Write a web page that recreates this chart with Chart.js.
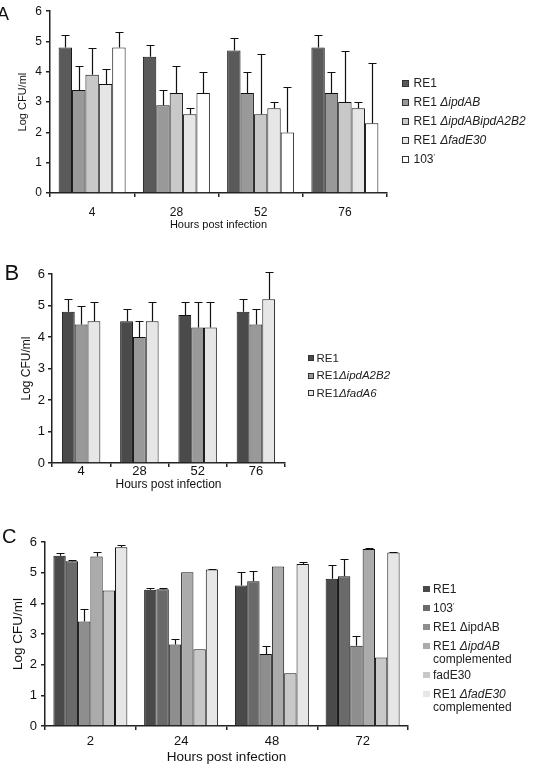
<!DOCTYPE html>
<html><head><meta charset="utf-8">
<script src="https://cdn.jsdelivr.net/npm/chart.js@4/dist/chart.umd.min.js"></script>
<style>
html,body{margin:0;padding:0;background:#fff;}
body{width:543px;height:764px;position:relative;overflow:hidden;font-family:"Liberation Sans",Arial,sans-serif;}
canvas{position:absolute;left:0;}
.letter{position:absolute;line-height:1;color:#111;}
.leg{position:absolute;display:flex;align-items:flex-start;color:#222;white-space:nowrap;}
.sw{display:inline-block;box-sizing:border-box;flex:none;}
.pr{font-size:8px;position:relative;top:-4px;line-height:0;}
</style></head><body>
<canvas id="ca" width="543" height="240" style="top:0px"></canvas>
<canvas id="cb" width="543" height="260" style="top:240px"></canvas>
<canvas id="cc" width="543" height="264" style="top:500px"></canvas>
<div class="letter" style="left:-3px;top:4.6px;font-size:18px">A</div>
<div class="letter" style="left:4.5px;top:262px;font-size:22px">B</div>
<div class="letter" style="left:2px;top:526px;font-size:20px">C</div>
<div id="legends"></div>
<script>
// ---------- Panel A ----------
const catsA = ['4', '28', '52', '76'];
const A_RE1 = [4.8, 4.5, 4.7, 4.8];
const A_RE1_err = [5.2, 4.9, 5.1, 5.2];
const A_ipdAB = [3.4, 2.9, 3.3, 3.3];
const A_ipdAB_err = [4.2, 3.4, 4.0, 4.0];
const A_ipdABipdA2B2 = [3.9, 3.3, 2.6, 3.0];
const A_ipdABipdA2B2_err = [4.8, 4.2, 4.6, 4.7];
const A_fadE30 = [3.6, 2.6, 2.8, 2.8];
const A_fadE30_err = [4.1, 2.8, 3.0, 3.0];
const A_103 = [4.8, 3.3, 2.0, 2.3];
const A_103_err = [5.3, 4.0, 3.5, 4.3];
const namesA = ['RE1', 'RE1 ΔipdAB', 'RE1 ΔipdABipdA2B2', 'RE1 ΔfadE30', "103'"];
const legendA = ['RE1', 'RE1 <i>ΔipdAB</i>', 'RE1 <i>ΔipdABipdA2B2</i>', 'RE1 <i>ΔfadE30</i>', "103<span class=\"pr\">'</span>"];

// ---------- Panel B ----------
const catsB = ['4', '28', '52', '76'];
const B_RE1 = [4.8, 4.5, 4.7, 4.8];
const B_RE1_err = [5.2, 4.9, 5.1, 5.2];
const B_ipdA2B2 = [4.4, 4.0, 4.3, 4.4];
const B_ipdA2B2_err = [5.0, 4.5, 5.1, 4.9];
const B_fadA6 = [4.5, 4.5, 4.3, 5.2];
const B_fadA6_err = [5.1, 5.1, 5.1, 6.05];
const namesB = ['RE1', 'RE1ΔipdA2B2', 'RE1ΔfadA6'];
const legendB = ['RE1', 'RE1<i>ΔipdA2B2</i>', 'RE1<i>ΔfadA6</i>'];

// ---------- Panel C ----------
const catsC = ['2', '24', '48', '72'];
const C_RE1 = [5.55, 4.44, 4.58, 4.8];
const C_RE1_err = [5.64, 4.5, 5.03, 5.26];
const C_103 = [5.37, 4.46, 4.72, 4.88];
const C_103_err = [5.4, 4.5, 5.06, 5.46];
const C_ipdAB = [3.41, 2.66, 2.35, 2.62];
const C_ipdAB_err = [3.83, 2.83, 2.62, 2.95];
const C_ipdABcomp = [5.53, 5.01, 5.2, 5.77];
const C_ipdABcomp_err = [5.69, null, null, 5.8];
const C_fadE30 = [4.42, 2.5, 1.72, 2.23];
const C_fadE30_err = [null, null, null, null];
const C_fadE30comp = [5.83, 5.1, 5.28, 5.66];
const C_fadE30comp_err = [5.9, 5.13, 5.35, 5.68];
const namesC = ['RE1', "103'", 'RE1 ΔipdAB', 'RE1 ΔipdAB complemented', 'fadE30', 'RE1 ΔfadE30 complemented'];
const legendC = ['RE1', "103<span class=\"pr\">'</span>", 'RE1 ΔipdAB', 'RE1 <i>ΔipdAB</i><br>complemented', 'fadE30', 'RE1 <i>ΔfadE30</i><br>complemented'];

const yTicks = [0, 1, 2, 3, 4, 5, 6];
const FAM = '"Liberation Sans", Arial, sans-serif';

const errPlugin = {
  id: 'errbars',
  afterDatasetsDraw(chart) {
    const ctx = chart.ctx, ys = chart.scales.y;
    const cap = chart.options.plugins.errbars.cap;
    ctx.save();
    ctx.strokeStyle = '#111';
    ctx.lineWidth = 1.2;
    chart.data.datasets.forEach((ds, i) => {
      if (!ds.err) return;
      const meta = chart.getDatasetMeta(i);
      meta.data.forEach((bar, j) => {
        const e = ds.err[j];
        if (e == null) return;
        const yt = Math.round(ys.getPixelForValue(e)) + 0.5;
        const x = Math.round(bar.x) + 0.5;
        ctx.beginPath();
        ctx.moveTo(x, bar.y);
        ctx.lineTo(x, yt);
        ctx.moveTo(x - cap, yt);
        ctx.lineTo(x + cap, yt);
        ctx.stroke();
      });
    });
    ctx.restore();
  }
};

function makeChart(id, cats, series, o) {
  return new Chart(document.getElementById(id), {
    type: 'bar',
    data: {
      labels: cats,
      datasets: series.map(s => ({
        label: s.label, data: s.data, err: s.err,
        backgroundColor: s.color, borderColor: '#111', borderWidth: 1,
        barPercentage: 1, categoryPercentage: o.cat
      }))
    },
    options: {
      responsive: false, animation: false, devicePixelRatio: 1,
      layout: { padding: { left: 0, right: o.padRight, top: o.padTop, bottom: 0 } },
      plugins: { legend: { display: false }, tooltip: { enabled: false }, errbars: { cap: o.cap } },
      scales: {
        x: {
          grid: { display: true, drawOnChartArea: false, drawTicks: true, tickLength: 4, color: '#222', lineWidth: 1.5, offset: true },
          border: { display: true, color: '#222', width: 1.5 },
          ticks: { color: '#111', font: { size: o.tickSize, family: FAM }, padding: o.xTickPad, maxRotation: 0 },
          title: { display: true, text: 'Hours post infection', color: '#111', font: { size: o.xTitleSize, family: FAM, lineHeight: 1 }, padding: { top: 0, bottom: o.xTitlePad } },
          afterFit(s) { s.height = o.xH; }
        },
        y: {
          min: 0, max: 6,
          afterBuildTicks(s) { s.ticks = yTicks.map(v => ({ value: v })); },
          grid: { display: true, drawOnChartArea: false, drawTicks: true, tickLength: 4, color: '#222', lineWidth: 1.5 },
          border: { display: true, color: '#222', width: 1.5 },
          ticks: { color: '#111', font: { size: o.tickSize, family: FAM }, padding: o.yTickPad },
          title: { display: true, text: 'Log CFU/ml', color: '#111', font: { size: o.yTitleSize, family: FAM, lineHeight: 1 }, padding: { top: o.yTitlePad, bottom: 0 } },
          afterFit(s) { s.width = o.yW; }
        }
      }
    },
    plugins: [errPlugin]
  });
}

makeChart('ca', catsA, [
  { label: namesA[0], data: A_RE1, err: A_RE1_err, color: '#5a5a5a' },
  { label: namesA[1], data: A_ipdAB, err: A_ipdAB_err, color: '#999999' },
  { label: namesA[2], data: A_ipdABipdA2B2, err: A_ipdABipdA2B2_err, color: '#c8c8c8' },
  { label: namesA[3], data: A_fadE30, err: A_fadE30_err, color: '#e6e6e6' },
  { label: namesA[4], data: A_103, err: A_103_err, color: '#ffffff' }
], { cat: 0.795, padRight: 156, padTop: 9, xH: 47, yW: 50, tickSize: 12, xTitleSize: 11, yTitleSize: 11, xTickPad: 8, xTitlePad: 10, yTickPad: 4, yTitlePad: 17, cap: 4 });

makeChart('cb', catsB, [
  { label: namesB[0], data: B_RE1, err: B_RE1_err, color: '#4a4a4a' },
  { label: namesB[1], data: B_ipdA2B2, err: B_ipdA2B2_err, color: '#999999' },
  { label: namesB[2], data: B_fadA6, err: B_fadA6_err, color: '#e6e6e6' }
], { cat: 0.66, padRight: 258, padTop: 34, xH: 37, yW: 52, tickSize: 13, xTitleSize: 12, yTitleSize: 12, xTickPad: -3, xTitlePad: 9, yTickPad: 3, yTitlePad: 21, cap: 4 });

makeChart('cc', catsC, [
  { label: namesC[0], data: C_RE1, err: C_RE1_err, color: '#4a4a4a' },
  { label: namesC[1], data: C_103, err: C_103_err, color: '#6a6a6a' },
  { label: namesC[2], data: C_ipdAB, err: C_ipdAB_err, color: '#8e8e8e' },
  { label: namesC[3], data: C_ipdABcomp, err: C_ipdABcomp_err, color: '#ababab' },
  { label: namesC[4], data: C_fadE30, err: C_fadE30_err, color: '#c8c8c8' },
  { label: namesC[5], data: C_fadE30comp, err: C_fadE30comp_err, color: '#e6e6e6' }
], { cat: 0.815, padRight: 135, padTop: 42, xH: 38, yW: 45, tickSize: 13, xTitleSize: 13.5, yTitleSize: 13.5, xTickPad: 4, xTitlePad: 0, yTickPad: 4, yTitlePad: 12, cap: 4 });

// ---------- HTML legends ----------
function legend(items, colors, cfg) {
  const host = document.getElementById('legends');
  let cy = cfg.startY;
  items.forEach((html, i) => {
    const lines = html.split('<br>').length;
    const d = document.createElement('div');
    d.className = 'leg';
    d.style.left = cfg.x + 'px';
    d.style.top = (cy - cfg.lh / 2) + 'px';
    d.style.fontSize = cfg.fs + 'px';
    d.style.lineHeight = cfg.lh + 'px';
    const sw = document.createElement('span');
    sw.className = 'sw';
    sw.style.width = cfg.sq + 'px';
    sw.style.height = cfg.sq + 'px';
    sw.style.marginTop = ((cfg.lh - cfg.sq) / 2) + 'px';
    sw.style.marginRight = cfg.gap + 'px';
    sw.style.background = colors[i];
    sw.style.border = cfg.border ? '1px solid #333' : 'none';
    const t = document.createElement('span');
    t.innerHTML = html;
    d.appendChild(sw); d.appendChild(t);
    host.appendChild(d);
    cy += cfg.step + (lines - 1) * cfg.extra;
  });
}
legend(legendA, ['#5a5a5a', '#999999', '#c8c8c8', '#e6e6e6', '#ffffff'],
  { x: 401.5, startY: 83, step: 19, extra: 0, fs: 12, lh: 14, sq: 7, gap: 5, border: true });
legend(legendB, ['#4a4a4a', '#999999', '#e6e6e6'],
  { x: 308, startY: 358, step: 17.5, extra: 0, fs: 11.5, lh: 13, sq: 6, gap: 2.5, border: true });
legend(legendC, ['#4a4a4a', '#6a6a6a', '#8e8e8e', '#ababab', '#c8c8c8', '#e6e6e6'],
  { x: 423, startY: 589, step: 19, extra: 10, fs: 12, lh: 13, sq: 6.5, gap: 3.5, border: false });
</script>
</body></html>
